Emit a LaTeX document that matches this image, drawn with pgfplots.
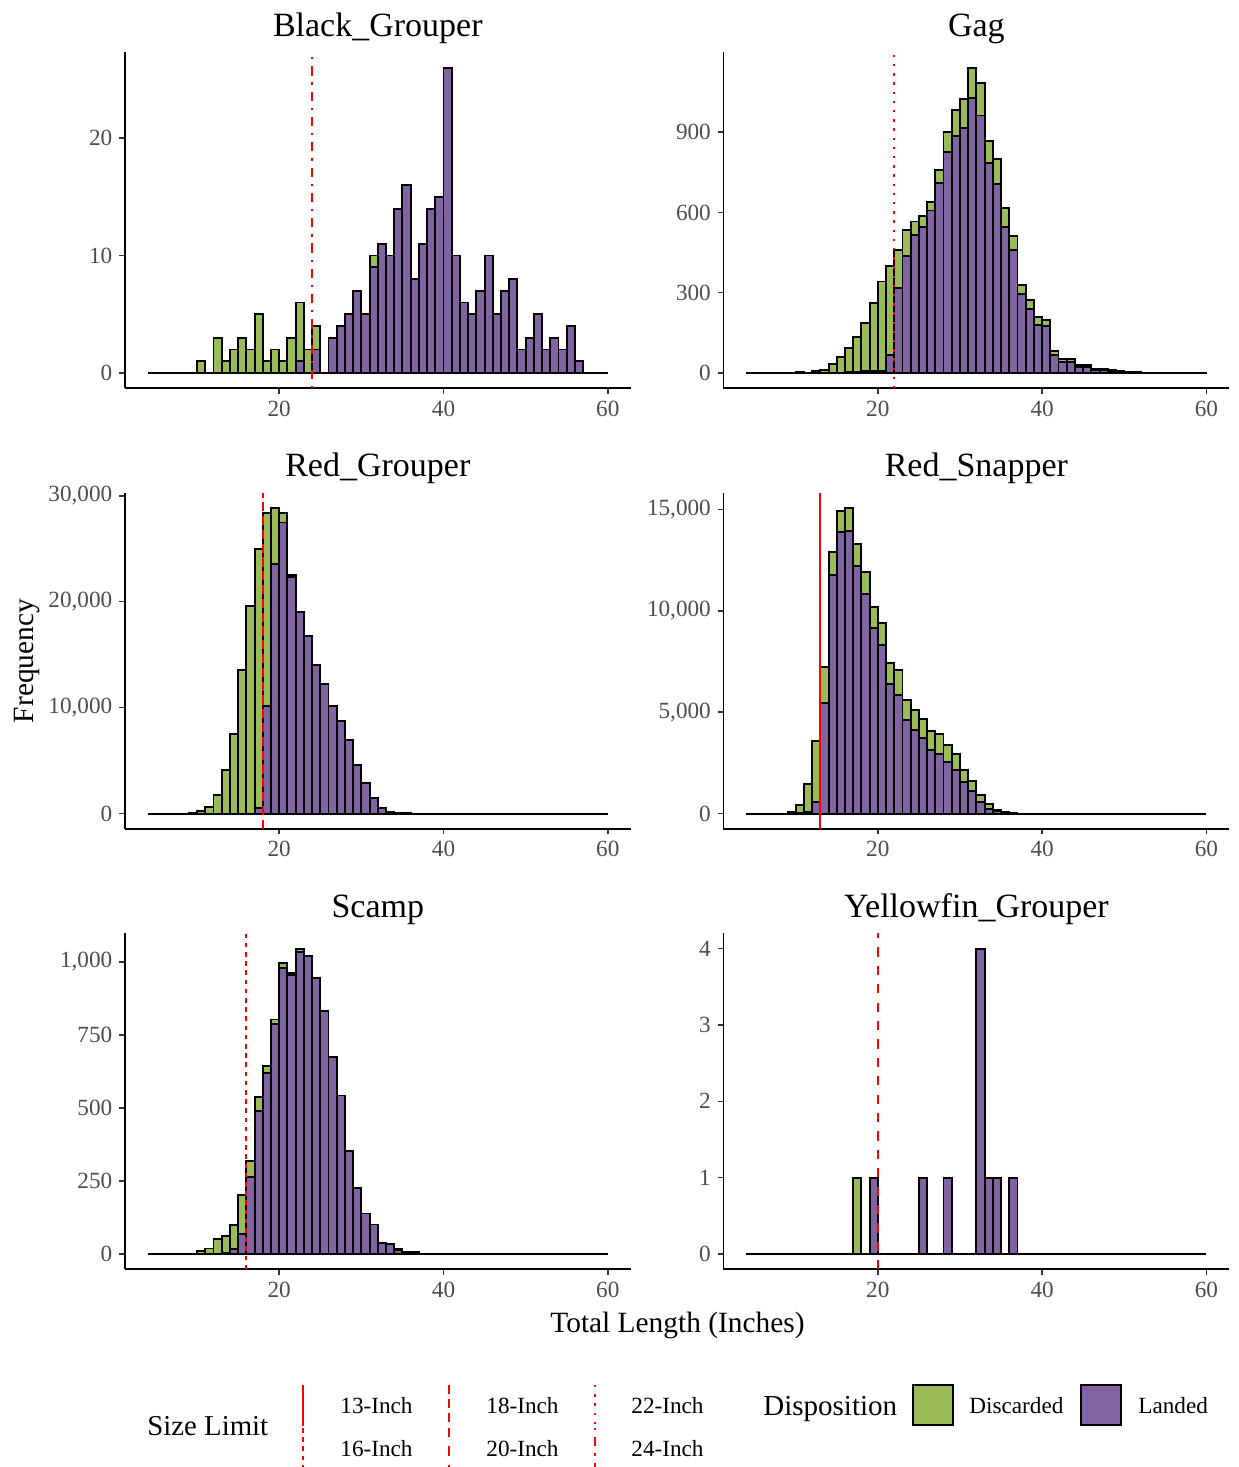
\documentclass[border=0pt]{standalone}
\usepackage{fontspec}
\setmainfont{Liberation Serif}
\usepackage{pgfplots}
\usepackage{pgfplotstable}
\pgfplotsset{compat=1.18}

\definecolor{discgreen}{HTML}{9BBB59}
\definecolor{landpurple}{HTML}{8064A2}
\definecolor{tickgrey}{HTML}{4D4D4D}
\definecolor{tickline}{HTML}{333333}

% counts per 1-inch bin: bin midpoint, landed, discarded
\pgfplotstableread{
mid landed discarded
10.5 0 1
12.5 0 3
13.5 0 1
14.5 0 2
15.5 0 3
16.5 0 2
17.5 0 5
18.5 0 1
19.5 0 2
20.5 0 1
21.5 0 3
22.5 1 5
23.5 0 2
24.5 2 2
26.5 3 0
27.5 4 0
28.5 5 0
29.5 7 0
30.5 5 0
31.5 9 1
32.5 11 0
33.5 10 0
34.5 14 0
35.5 16 0
36.5 8 0
37.5 11 0
38.5 14 0
39.5 15 0
40.5 26 0
41.5 10 0
42.5 6 0
43.5 5 0
44.5 7 0
45.5 10 0
46.5 5 0
47.5 7 0
48.5 8 0
49.5 2 0
50.5 3 0
51.5 5 0
52.5 2 0
53.5 3 0
54.5 2 0
55.5 4 0
56.5 1 0
}\blackgrouper

\pgfplotstableread{
mid landed discarded
9.5 0 2
10.5 0 3
11.5 0 2
12.5 0 8
13.5 0 12
14.5 1 33
15.5 2 58
16.5 3 90
17.5 5 129
18.5 6 181
19.5 6 255
20.5 9 333
21.5 66 335
22.5 317 144
23.5 436 99
24.5 517 49
25.5 545 40
26.5 607 32
27.5 710 47
28.5 824 76
29.5 886 97
30.5 915 108
31.5 1027 114
32.5 962 121
33.5 784 84
34.5 707 93
35.5 545 71
36.5 461 52
37.5 296 34
38.5 240 34
39.5 180 28
40.5 177 22
41.5 68 13
42.5 42 10
43.5 42 10
44.5 21 8
45.5 21 8
46.5 12 3
47.5 12 3
48.5 8 2
49.5 5 1
50.5 4 1
51.5 3 1
52.5 2 0
53.5 1 0
56.5 2 0
59.5 2 0
}\gag

\pgfplotstableread{
mid landed discarded
9.5 0 60
10.5 0 220
11.5 0 600
12.5 0 1730
13.5 0 4090
14.5 0 7550
15.5 0 13520
16.5 0 19620
17.5 530 24470
18.5 10130 18230
19.5 23580 5260
20.5 27480 880
21.5 22300 180
22.5 19030 0
23.5 16730 0
24.5 13990 0
25.5 12230 0
26.5 10130 0
27.5 8710 0
28.5 6980 0
29.5 4620 0
30.5 2890 0
31.5 1480 0
32.5 530 0
33.5 160 0
34.5 60 0
35.5 20 0
}\redgrouper

\pgfplotstableread{
mid landed discarded
9.5 0 80
10.5 20 390
11.5 60 1400
12.5 560 3005
13.5 5450 1780
14.5 11750 1150
15.5 13880 1050
16.5 13915 1150
17.5 12190 1120
18.5 10830 1080
19.5 9150 1035
20.5 8300 1100
21.5 6410 1015
22.5 5865 1200
23.5 4630 990
24.5 4110 980
25.5 3730 935
26.5 3155 935
27.5 2940 985
28.5 2545 855
29.5 2135 820
30.5 1545 590
31.5 1100 495
32.5 575 330
33.5 245 230
34.5 120 45
35.5 50 15
36.5 25 5
}\redsnapper

\pgfplotstableread{
mid landed discarded
10.5 0 11
11.5 0 19
12.5 0 51
13.5 3 60
14.5 17 83
15.5 69 134
16.5 263 55
17.5 491 48
18.5 619 24
19.5 789 14
20.5 981 16
21.5 955 7
22.5 1034 12
23.5 1021 0
24.5 946 0
25.5 831 0
26.5 674 0
27.5 543 0
28.5 352 0
29.5 225 0
30.5 139 0
31.5 101 0
32.5 38 0
33.5 34 0
34.5 15 2
35.5 8 0
36.5 6 0
}\scamp

\pgfplotstableread{
mid landed discarded
17.5 0 1
19.5 1 0
25.5 1 0
28.5 1 0
32.5 4 0
33.5 1 0
34.5 1 0
36.5 1 0
}\yellowfin

\tikzset{
  lim/.style={red, line width=0.9pt},
  base/.style={black, line width=1pt},
}

\pgfplotsset{
  panel/.style={
    scale only axis, width=253pt, height=168pt, anchor=south west,
    xmin=1.2, xmax=62.8, xtick={20,40,60},
    axis lines=left, axis line style={-, line width=0.85pt, black},
    tick align=outside, major tick length=2.75pt,
    tick style={line width=0.75pt, color=tickline},
    tick label style={font=\fontsize{11.6}{13}\selectfont, text=tickgrey},
    scaled y ticks=false,
    yticklabel style={/pgf/number format/fixed, /pgf/number format/1000 sep={,}},
    /pgf/number format/assume math mode=true,
    title style={font=\fontsize{17}{20}\selectfont, at={(0.5,1)}, anchor=base, yshift=2pt, inner sep=0pt},
  },
  disc/.style={ybar, bar width=1, bar shift=0pt, fill=discgreen, draw=black, line width=0.95pt},
  land/.style={ybar, bar width=1, bar shift=0pt, fill=landpurple, draw=black, line width=0.95pt},
}

\newcommand{\panelplots}[1]{%
  \addplot[base] coordinates {(4,0) (60,0)};
  \addplot[disc] table[x=mid, y expr=\thisrow{landed}+\thisrow{discarded}] {#1};
  \addplot[land] table[x=mid, y=landed] {#1};
}

\begin{document}
\begin{tikzpicture}
\useasboundingbox (0,0) rectangle (619pt,-733.5pt);

\begin{axis}[panel, at={(62.4pt,-194.15pt)}, title={Black\_Grouper},
  ymin=-1.3, ymax=27.3, ytick={0,10,20}]
\panelplots{\blackgrouper}
\addplot[lim, dash pattern=on 1.15pt off 3.45pt on 4.6pt off 3.45pt] coordinates {(24,-1.3) (24,27.3)};
\end{axis}

\begin{axis}[panel, at={(361.7pt,-194.15pt)}, title={Gag},
  ymin=-57.05, ymax=1198.05, ytick={0,300,600,900}]
\panelplots{\gag}
\addplot[lim, dash pattern=on 1.15pt off 3.45pt] coordinates {(22,-57.05) (22,1198.05)};
\end{axis}

\begin{axis}[panel, at={(62.4pt,-414.4pt)}, title={Red\_Grouper},
  ymin=-1442, ymax=30282, ytick={0,10000,20000,30000}]
\panelplots{\redgrouper}
\addplot[lim, dash pattern=on 4.6pt off 2.3pt] coordinates {(18,-1442) (18,30282)};
\end{axis}

\begin{axis}[panel, at={(361.7pt,-414.4pt)}, title={Red\_Snapper},
  ymin=-753.25, ymax=15818.25, ytick={0,5000,10000,15000}]
\panelplots{\redsnapper}
\addplot[lim] coordinates {(13,-753.25) (13,15818.25)};
\end{axis}

\begin{axis}[panel, at={(62.4pt,-634.65pt)}, title={Scamp},
  ymin=-52.3, ymax=1098.3, ytick={0,250,500,750,1000}]
\panelplots{\scamp}
\addplot[lim, dash pattern=on 2.3pt off 2.3pt] coordinates {(16,-52.3) (16,1098.3)};
\end{axis}

\begin{axis}[panel, at={(361.7pt,-634.65pt)}, title={Yellowfin\_Grouper},
  ymin=-0.2, ymax=4.2, ytick={0,1,2,3,4}]
\panelplots{\yellowfin}
\addplot[lim, dash pattern=on 4.6pt off 4.6pt] coordinates {(20,-0.2) (20,4.2)};
\end{axis}

% shared axis titles and legend, placed in pixel units of the reference
\begin{scope}[x=0.5pt, y=-0.5pt]
\node[rotate=90, anchor=base, inner sep=0pt, font=\fontsize{14.7}{17}\selectfont] at (33,661) {Frequency};
\node[anchor=base, inner sep=0pt, font=\fontsize{14.7}{17}\selectfont] at (677.5,1332) {Total Length (Inches)};

\node[anchor=base west, inner sep=0pt, font=\fontsize{14.4}{17}\selectfont] at (147,1435) {Size Limit};
\draw[lim] (303,1385) -- (303,1426);
\draw[lim, dash pattern=on 2.3pt off 2.3pt] (303,1428) -- (303,1467);
\draw[lim, dash pattern=on 4.6pt off 2.3pt] (449,1385) -- (449,1426);
\draw[lim, dash pattern=on 4.6pt off 4.6pt] (449,1428) -- (449,1467);
\draw[lim, dash pattern=on 1.15pt off 3.45pt] (595,1385) -- (595,1426);
\draw[lim, dash pattern=on 1.15pt off 3.45pt on 4.6pt off 3.45pt] (595,1428) -- (595,1467);
\begin{scope}[every node/.style={anchor=base west, inner sep=0pt, font=\fontsize{11.6}{13}\selectfont}]
\node at (340,1413) {13-Inch};
\node at (340,1456) {16-Inch};
\node at (486,1413) {18-Inch};
\node at (486,1456) {20-Inch};
\node at (631,1413) {22-Inch};
\node at (631,1456) {24-Inch};
\node at (969,1413) {Discarded};
\node at (1138,1413) {Landed};
\end{scope}
\node[anchor=base west, inner sep=0pt, font=\fontsize{14.5}{17}\selectfont] at (763,1415) {Disposition};
\draw[fill=discgreen, line width=0.9pt] (913,1385) rectangle (953,1425);
\draw[fill=landpurple, line width=0.9pt] (1081,1385) rectangle (1121,1425);
\end{scope}
\end{tikzpicture}
\end{document}
